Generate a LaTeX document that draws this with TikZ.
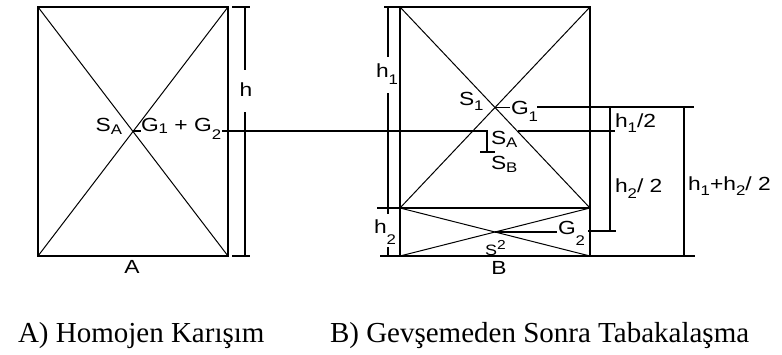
\documentclass[tikz,border=0pt]{standalone}
\usepackage{fontspec}
\setmainfont{Liberation Serif}
\newfontfamily\lblfont{Liberation Sans}
\newcommand\sbs[2][5pt]{\raisebox{-#1}{\fontsize{14}{14}\selectfont #2}}
\newcommand\lab[1]{\scalebox{1.2}[1]{\fontsize{19}{19}\selectfont\lblfont #1}}
\begin{document}
\begin{tikzpicture}[x=1pt,y=-1pt,
  frame/.style={line width=1.8pt},
  diag/.style={line width=1pt},
  dimline/.style={line width=1.4pt},
  lbl/.style={inner sep=0pt,outer sep=0pt},
  captext/.style={inner sep=0pt,outer sep=0pt,font=\fontsize{29}{29}\selectfont}]
\useasboundingbox (0,0) rectangle (782,354);
\fill[white] (0,0) rectangle (782,354);

% ---------- A ----------
\coordinate (a1) at (38,7);
\coordinate (a2) at (228,7);
\coordinate (a3) at (228,256);
\coordinate (a4) at (38,256);
\coordinate (sa) at (133,131);
\draw[frame] (a1) rectangle (a3);
\draw[diag] (a1) -- (a3);
\draw[diag] (a2) -- (a4);
\coordinate (sag) at (141,131);
\draw[dimline] (sa) -- (sag);
\node[lbl,anchor=base east] (lsa) at (122,131) {\lab{S\sbs[3pt]{A}}};
\node[lbl,anchor=base west] (lg12) at (141,131) {\lab{G\sbs[2pt]{1} + G\sbs[8pt]{2}}};
\node[lbl,anchor=base] (lA) at (132,273) {\lab{A}};

% dimension h
\coordinate (ht1) at (232,7);  \coordinate (ht2) at (250,7);
\coordinate (hb1) at (232,256);\coordinate (hb2) at (250,256);
\coordinate (hv1) at (245,7);  \coordinate (hv2) at (245,70);
\coordinate (hv3) at (245,112);\coordinate (hv4) at (245,256);
\draw[dimline] (ht1) -- (ht2);
\draw[dimline] (hb1) -- (hb2);
\draw[dimline] (hv1) -- (hv2);
\draw[dimline] (hv3) -- (hv4);
\node[lbl,anchor=base] (lh) at (246,96) {\lab{h}};

% main horizontal line
\coordinate (m1) at (222,131);
\coordinate (m2) at (487,131);
\coordinate (m3) at (487,152);
\coordinate (m4) at (480,152);
\coordinate (m5) at (495,152);
\coordinate (m6) at (518,131);
\coordinate (m7) at (615,131);
\draw[dimline] (m1) -- (m2) -- (m3);
\draw[dimline] (m4) -- (m5);
\draw[dimline] (m6) -- (m7);

% ---------- B ----------
\coordinate (b1) at (400,7);
\coordinate (b2) at (590,7);
\coordinate (b3) at (590,256);
\coordinate (b4) at (400,256);
\coordinate (bl) at (400,208);
\coordinate (br) at (590,208);
\draw[frame] (b1) rectangle (b3);
\draw[frame] (bl) -- (br);
\draw[diag] (b1) -- (br);
\draw[diag] (b2) -- (bl);
\draw[diag] (bl) -- (b3);
\draw[diag] (b4) -- (br);
\coordinate (s1) at (495,107.5);
\coordinate (s2) at (495,232);

% left ticks and dimension h1, h2
\coordinate (t1) at (384,7);
\coordinate (t2) at (377,208);
\coordinate (t3) at (380,256);
\draw[dimline] (t1) -- (b1);
\draw[dimline] (t2) -- (bl);
\draw[dimline] (t3) -- (b4);
\coordinate (v1) at (388,7);   \coordinate (v2) at (388,57);
\coordinate (v3) at (388,93);  \coordinate (v4) at (388,214);
\coordinate (v5) at (388,247); \coordinate (v6) at (388,256);
\draw[dimline] (v1) -- (v2);
\draw[dimline] (v3) -- (v4);
\draw[dimline] (v5) -- (v6);
\node[lbl,anchor=base west] (lh1) at (376,77) {\lab{h\sbs[7pt]{1}}};
\node[lbl,anchor=base west] (lh2) at (374,233) {\lab{h\sbs[11pt]{2}}};

% S1 / G1
\node[lbl,anchor=base west] (ls1) at (459,105) {\lab{S\sbs[5pt]{1}}};
\coordinate (g1a) at (510,107.5);
\draw[dimline] (s1) -- (g1a);
\node[lbl,anchor=base west] (lg1) at (511,114) {\lab{G\sbs[7pt]{1}}};
\coordinate (g1b) at (537,107);
\coordinate (g1c) at (694,107);
\draw[dimline] (g1b) -- (g1c);

% SA / SB
\node[lbl,anchor=base west] (lsa2) at (491,144) {\lab{S\sbs[3pt]{A}}};
\node[lbl,anchor=base west] (lsb) at (491,169) {\lab{S\sbs[3pt]{B}}};

% S2 / G2
\node[lbl,anchor=base west] (ls2) at (485,255) {\lab{\fontsize{15}{15}\selectfont S\raisebox{6pt}{\fontsize{13}{13}\selectfont 2}}};
\coordinate (g2a) at (557,232);
\draw[dimline] (s2) -- (g2a);
\node[lbl,anchor=base west] (lg2) at (558,234) {\lab{G\sbs[11pt]{2}}};
\coordinate (g2b) at (588,231);
\coordinate (g2c) at (616,231);
\draw[dimline] (g2b) -- (g2c);

% right dimensions
\coordinate (d1) at (610,107);
\coordinate (d2) at (610,231);
\draw[dimline] (d1) -- (d2);
\node[lbl,anchor=base west] (lh12) at (615,127) {\lab{h\sbs[5pt]{1}/2}};
\node[lbl,anchor=base west] (lh22) at (615,192) {\lab{h\sbs[6pt]{2}/ 2}};
\coordinate (e1) at (695,256);
\draw[dimline] (b3) -- (e1);
\coordinate (f1) at (684,107);
\coordinate (f2) at (684,256);
\draw[dimline] (f1) -- (f2);
\node[lbl,anchor=base west] (lh3) at (688,190) {\lab{h\sbs[5pt]{1}+h\sbs[5pt]{2}/ 2}};
\node[lbl,anchor=base] (lB) at (499,274) {\lab{B}};

% captions
\node[captext,anchor=base west] (capA) at (18,342) {A) Homojen Karışım};
\node[captext,anchor=base west] (capB) at (330,342) {B) Gevşemeden Sonra Tabakalaşma};
\end{tikzpicture}
\end{document}
